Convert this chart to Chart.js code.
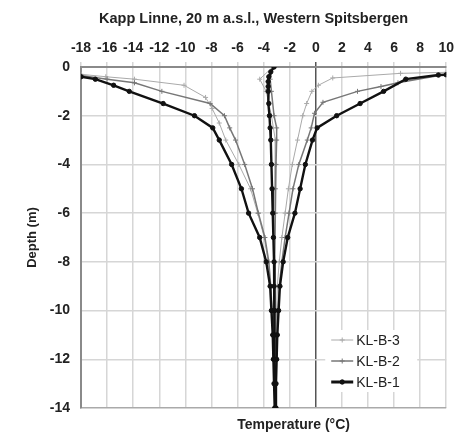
<!DOCTYPE html>
<html>
<head>
<meta charset="utf-8">
<script src="https://cdn.jsdelivr.net/npm/chart.js@4"></script>
<style>
  body { margin: 0; background: #fff; }
  #wrap { width: 459px; height: 433px; }
</style>
</head>
<body>
<div id="wrap"><canvas id="chartProfile" width="459" height="433"></canvas></div>
<script>
// KL-B-1 (black)
const b1MinDepth  = [-0.4, -0.5, -0.75, -1, -1.5, -2, -2.5, -3, -4, -5, -6, -7, -8, -9, -10, -11, -12, -13, -14];
const b1MinTemp   = [-18.0, -16.9, -15.5, -14.3, -11.7, -9.3, -7.9, -7.4, -6.45, -5.7, -5.15, -4.3, -3.8, -3.5, -3.4, -3.3, -3.25, -3.2, -3.15];
const b1MaxDepth  = [-0.32, -0.33, -0.5, -1, -1.5, -2, -2.5, -3, -4, -5, -6, -7, -8, -9, -10, -11, -12, -13, -14];
const b1MaxTemp   = [10.0, 9.4, 6.9, 5.2, 3.4, 1.6, 0.1, -0.25, -0.8, -1.2, -1.6, -2.15, -2.5, -2.75, -2.85, -2.95, -3.0, -3.05, -3.05];
const b1MeanDepth = [0, -0.2, -0.4, -0.6, -0.8, -1, -1.5, -2, -2.5, -3, -4, -5, -6, -7, -8, -9, -10, -11, -12, -13, -14];
const b1MeanTemp  = [-3.2, -3.45, -3.6, -3.65, -3.65, -3.65, -3.6, -3.55, -3.5, -3.45, -3.4, -3.35, -3.3, -3.25, -3.2, -3.2, -3.15, -3.15, -3.15, -3.1, -3.1];

// KL-B-2 (grey)
const b2MinDepth  = [-0.35, -0.5, -0.65, -1, -1.5, -2, -2.5, -3, -4, -5, -6, -7, -8, -9, -10, -11, -12];
const b2MinTemp   = [-18.0, -16.0, -13.9, -11.8, -8.1, -7.0, -6.6, -6.15, -5.45, -4.85, -4.4, -3.9, -3.6, -3.45, -3.35, -3.3, -3.25];
const b2MaxDepth  = [-0.3, -0.65, -0.8, -1, -1.45, -1.9, -2.5, -3, -4, -5, -6, -7, -8, -9, -10, -11, -12];
const b2MaxTemp   = [10.0, 6.3, 5.0, 3.2, 0.55, -0.1, -0.35, -0.65, -1.3, -1.75, -2.05, -2.35, -2.6, -2.8, -2.9, -2.95, -3.0];
const b2MeanDepth = [0, -0.5, -1, -2, -2.5, -3, -4, -5, -6, -8, -10, -12];
const b2MeanTemp  = [-3.3, -3.5, -3.4, -3.2, -3.0, -3.0, -3.05, -3.1, -3.1, -3.15, -3.15, -3.15];

// KL-B-3 (light grey)
const b3MinDepth  = [-0.3, -0.4, -0.5, -0.75, -1.25, -1.7, -2.3, -3, -4, -5, -6, -7, -8, -9, -10, -11, -12];
const b3MinTemp   = [-18.0, -16.1, -13.9, -10.1, -8.45, -7.95, -7.4, -6.9, -5.9, -5.0, -4.45, -3.95, -3.65, -3.45, -3.35, -3.3, -3.25];
const b3MaxDepth  = [-0.22, -0.26, -0.45, -0.75, -1, -1.5, -2, -3, -4, -5, -6, -7, -8, -9, -10, -11, -12];
const b3MaxTemp   = [10.0, 6.5, 1.3, 0.2, -0.3, -0.7, -1.0, -1.4, -1.8, -2.1, -2.35, -2.6, -2.8, -2.95, -3.0, -3.05, -3.1];
const b3MeanDepth = [0, -0.5, -1, -2, -3, -4, -6, -8, -10, -12];
const b3MeanTemp  = [-3.3, -4.3, -3.8, -3.4, -3.1, -3.1, -3.15, -3.2, -3.2, -3.2];

const boreholes = ["KL-B-3", "KL-B-2", "KL-B-1"];

const fontFamily = "'Liberation Sans', Arial, sans-serif";

function toPoints(depth, temp) {
  return depth.map((d, i) => ({ x: temp[i], y: d }));
}

const styleB1 = { borderColor: "#111", backgroundColor: "#111", borderWidth: 2.4, pointStyle: "circle", pointRadius: 2.2 };
const styleB2 = { borderColor: "#777", backgroundColor: "#777", borderWidth: 1.5, pointStyle: "cross", pointRadius: 2.5 };
const styleB3 = { borderColor: "#aaa", backgroundColor: "#aaa", borderWidth: 1, pointStyle: "cross", pointRadius: 2.5 };

function line(label, data, style) {
  return Object.assign({ label: label, data: data, showLine: true, lineTension: 0, fill: false, pointBorderWidth: 1 }, style);
}

// first dataset is painted last (on top)
const datasets = [
  line("KL-B-1", toPoints(b1MeanDepth, b1MeanTemp), styleB1),
  line("KL-B-1 min", toPoints(b1MinDepth, b1MinTemp), styleB1),
  line("KL-B-1 max", toPoints(b1MaxDepth, b1MaxTemp), styleB1),
  line("KL-B-2", toPoints(b2MeanDepth, b2MeanTemp), styleB2),
  line("KL-B-2 min", toPoints(b2MinDepth, b2MinTemp), styleB2),
  line("KL-B-2 max", toPoints(b2MaxDepth, b2MaxTemp), styleB2),
  line("KL-B-3", toPoints(b3MeanDepth, b3MeanTemp), styleB3),
  line("KL-B-3 min", toPoints(b3MinDepth, b3MinTemp), styleB3),
  line("KL-B-3 max", toPoints(b3MaxDepth, b3MaxTemp), styleB3),
];

// title, legend inside plot (bottom right) and bottom axis title
const extrasPlugin = {
  id: "extras",
  afterDraw(chart) {
    const ctx = chart.ctx;
    const area = chart.chartArea;
    const styles = { "KL-B-3": styleB3, "KL-B-2": styleB2, "KL-B-1": styleB1 };
    const x0 = area.right - 115;
    const y0 = area.bottom - 68;
    ctx.save();
    ctx.fillStyle = "#fff";
    ctx.fillRect(x0 - 6, y0 - 10, 92, 62);
    boreholes.forEach((name, i) => {
      const s = styles[name];
      const y = y0 + i * 21;
      ctx.strokeStyle = s.borderColor;
      ctx.fillStyle = s.backgroundColor;
      ctx.lineWidth = s.borderWidth + (name === "KL-B-1" ? 0.6 : 0);
      ctx.beginPath();
      ctx.moveTo(x0, y);
      ctx.lineTo(x0 + 22, y);
      ctx.stroke();
      ctx.lineWidth = 1;
      Chart.helpers.drawPoint(ctx, { pointStyle: s.pointStyle, radius: s.pointRadius, borderWidth: 1 }, x0 + 11, y);
      ctx.fillStyle = "#222";
      ctx.font = "14px " + fontFamily;
      ctx.textBaseline = "middle";
      ctx.textAlign = "left";
      ctx.fillText(name, x0 + 25, y + 1);
    });
    ctx.fillStyle = "#222";
    ctx.textAlign = "center";
    ctx.textBaseline = "middle";
    ctx.font = "bold 14px " + fontFamily;
    ctx.fillText("Temperature (°C)", (area.left + area.right) / 2 + 30, area.bottom + 17);
    ctx.font = "bold 14.5px " + fontFamily;
    ctx.fillText("Kapp Linne, 20 m a.s.l., Western Spitsbergen", (area.left + area.right) / 2 - 10, 19);
    ctx.restore();
  }
};

const chart = new Chart("chartProfile", {
  type: "scatter",
  data: { datasets: datasets },
  plugins: [extrasPlugin],
  options: {
    responsive: false,
    animation: false,
    layout: { padding: { left: 0, right: 11, top: 27.4, bottom: 25 } },
    plugins: {
      legend: { display: false },
      tooltip: { enabled: false },
    },
    scales: {
      x: {
        type: "linear",
        position: "top",
        min: -18,
        max: 10,
        afterFit(scale) { scale.height = 39.6; },
        ticks: {
          stepSize: 2,
          color: "#222",
          padding: 5,
          maxRotation: 0,
          font: { family: fontFamily, size: 14, weight: "bold" },
        },
        border: { color: "#8a8a8a", width: 2 },
        grid: {
          tickLength: 5,
          lineWidth: 1.5,
          color: (c) => (c.tick && c.tick.value === 0 ? "#555" : "#d6d6d6"),
        },
      },
      y: {
        type: "linear",
        min: -14,
        max: 0,
        afterFit(scale) { scale.width = 81; },
        ticks: {
          stepSize: 2,
          color: "#222",
          padding: 11,
          font: { family: fontFamily, size: 14, weight: "bold" },
        },
        title: {
          display: true,
          text: "Depth (m)",
          color: "#222",
          font: { family: fontFamily, size: 13, weight: "bold" },
          padding: { top: 25, bottom: 0 },
        },
        border: { color: "#8a8a8a", width: 2 },
        grid: {
          tickLength: 0,
          lineWidth: 1.5,
          color: (c) => (c.tick && c.tick.value === -14 ? "#aaa" : "#d6d6d6"),
        },
      },
    },
  },
});
</script>
</body>
</html>
